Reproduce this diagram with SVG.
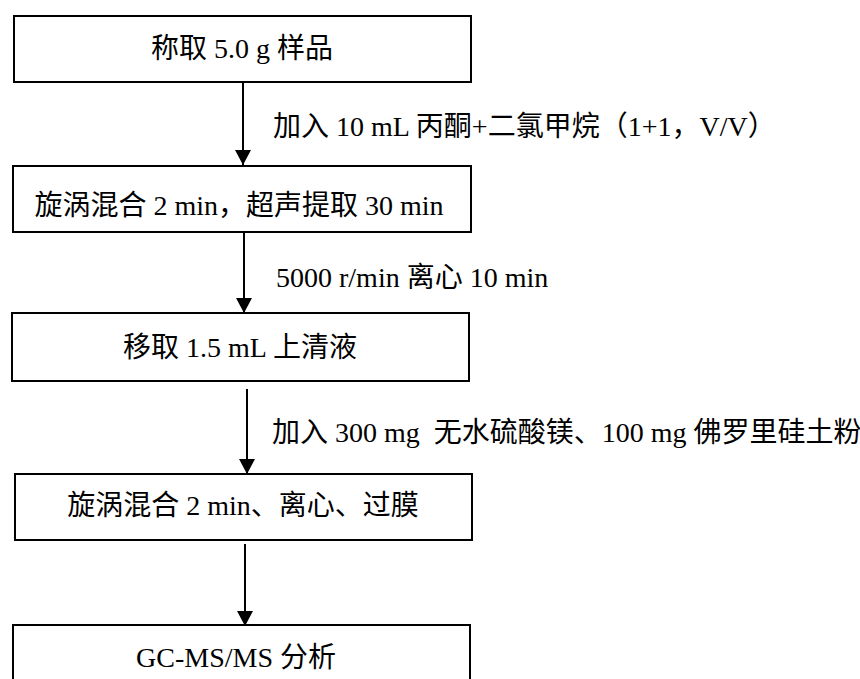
<svg xmlns="http://www.w3.org/2000/svg" width="860" height="679" viewBox="0 0 860 679">
<defs>
<marker id="ah" markerUnits="userSpaceOnUse" markerWidth="16" markerHeight="16" viewBox="0 0 16 16" refX="15" refY="8" orient="auto">
<path d="M0,0 L15,8 L0,16 Z" fill="#000"/>
</marker>
<style>
.box{fill:#fff;stroke:#000;stroke-width:2}
.t{font-family:"Liberation Serif","Noto Sans CJK SC",serif;font-size:28px;fill:#000}
.c{text-anchor:middle}
.ln{stroke:#000;stroke-width:2;fill:none;marker-end:url(#ah)}
</style>
</defs>
<rect width="860" height="679" fill="#fff"/>
<g id="connectors">
<line class="ln" x1="243" y1="82" x2="243" y2="165"/>
<line class="ln" x1="244" y1="232" x2="244" y2="313"/>
<line class="ln" x1="247" y1="389" x2="247" y2="474"/>
<line class="ln" x1="245" y1="544" x2="245" y2="626"/>
<text class="t" x="273" y="136">加入 10 mL 丙酮+二氯甲烷（1+1，V/V）</text>
<text class="t" x="276" y="287">5000 r/min 离心 10 min</text>
<text class="t" x="272" y="442" xml:space="preserve">加入 300 mg  无水硫酸镁、100 mg 佛罗里硅土粉</text>
</g>
<g id="n1">
<rect class="box" x="14" y="16" width="457" height="66"/>
<text class="t c" x="242" y="58">称取 5.0 g 样品</text>
</g>
<g id="n2">
<rect class="box" x="13" y="166" width="458" height="66"/>
<text class="t c" x="239" y="215">旋涡混合 2 min，超声提取 30 min</text>
</g>
<g id="n3">
<rect class="box" x="12" y="313" width="457" height="68"/>
<text class="t c" x="240" y="357">移取 1.5 mL 上清液</text>
</g>
<g id="n4">
<rect class="box" x="15" y="474" width="457" height="66"/>
<text class="t c" x="243" y="515">旋涡混合 2 min、离心、过膜</text>
</g>
<g id="n5">
<rect class="box" x="13" y="625" width="457" height="70"/>
<text class="t c" x="236" y="667">GC-MS/MS 分析</text>
</g>
</svg>
